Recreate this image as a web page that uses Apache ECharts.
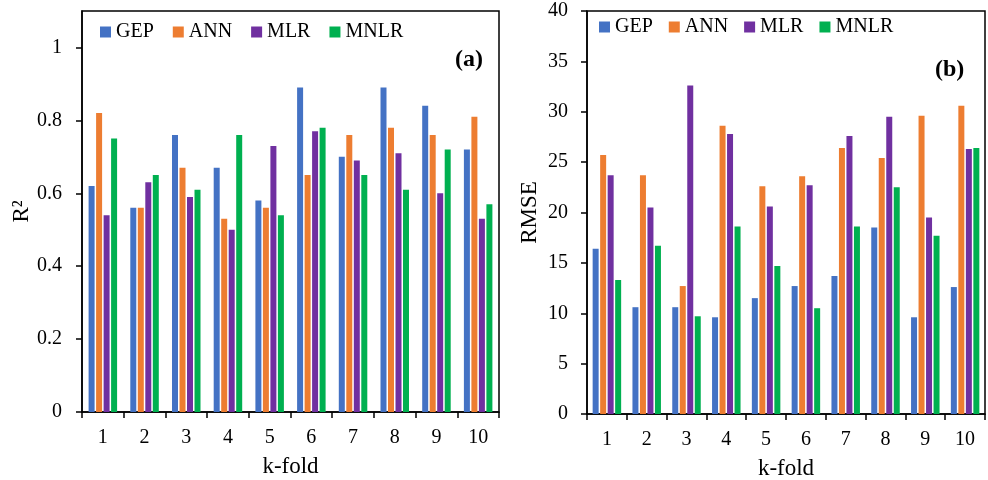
<!DOCTYPE html>
<html>
<head>
<meta charset="utf-8">
<script src="https://cdn.jsdelivr.net/npm/echarts@6/dist/echarts.min.js"></script>
<style>html,body{margin:0;padding:0;background:#fff}#c{width:988px;height:480px}</style>
</head>
<body>
<div id="c"></div>
<script>
var folds = ['1','2','3','4','5','6','7','8','9','10'];
var seriesNames = ['GEP','ANN','MLR','MNLR'];
var colors = ['#4472C4','#ED7D31','#7030A0','#00B050'];

var r2GEP  = [0.62,0.56,0.76,0.67,0.58,0.89,0.70,0.89,0.84,0.72];
var r2ANN  = [0.82,0.56,0.67,0.53,0.56,0.65,0.76,0.78,0.76,0.81];
var r2MLR  = [0.54,0.63,0.59,0.50,0.73,0.77,0.69,0.71,0.60,0.53];
var r2MNLR = [0.75,0.65,0.61,0.76,0.54,0.78,0.65,0.61,0.72,0.57];

var rmseGEP  = [16.4,10.6,10.6,9.6,11.5,12.7,13.7,18.5,9.6,12.6];
var rmseANN  = [25.7,23.7,12.7,28.6,22.6,23.6,26.4,25.4,29.6,30.6];
var rmseMLR  = [23.7,20.5,32.6,27.8,20.6,22.7,27.6,29.5,19.5,26.3];
var rmseMNLR = [13.3,16.7,9.7,18.6,14.7,10.5,18.6,22.5,17.7,26.4];

var r2Ticks = [0,0.2,0.4,0.6,0.8,1];
var rmseTicks = [0,5,10,15,20,25,30,35,40];

var FONT = 'Liberation Serif';
var chart = echarts.init(document.getElementById('c'), null, {renderer:'canvas'});

function xAxis(gi){
  return {
    type:'category', gridIndex:gi, data:folds, boundaryGap:true,
    name:'k-fold', nameLocation:'middle', nameGap:43,
    nameTextStyle:{fontFamily:FONT, fontSize:23, color:'#000'},
    axisLine:{lineStyle:{color:'#000', width:1.5}},
    axisTick:{show:true, length:6, lineStyle:{color:'#000', width:1.5}},
    axisLabel:{fontFamily:FONT, fontSize:20, color:'#000', margin:16}
  };
}
function yAxis(gi, name, max, interval, ticks, gap, margin){
  return {
    type:'value', gridIndex:gi, min:0, max:max, interval:interval,
    name:name, nameLocation:'middle', nameGap:gap,
    nameTextStyle:{fontFamily:FONT, fontSize:23, color:'#000'},
    splitLine:{show:false},
    axisLine:{show:true, lineStyle:{color:'#000', width:1.5}},
    axisTick:{show:true, length:6, lineStyle:{color:'#000', width:1.5}, customValues:ticks},
    axisLabel:{fontFamily:FONT, fontSize:20, color:'#000', margin:margin, customValues:ticks}
  };
}
var r2Data = [r2GEP, r2ANN, r2MLR, r2MNLR];
var rmseData = [rmseGEP, rmseANN, rmseMLR, rmseMNLR];
var series = [];
for (var i=0;i<4;i++){
  series.push({type:'bar', name:seriesNames[i], xAxisIndex:0, yAxisIndex:0, data:r2Data[i],
    barWidth:6, barGap:'25%', itemStyle:{color:colors[i]}});
}
for (var j=0;j<4;j++){
  series.push({type:'bar', name:seriesNames[j], xAxisIndex:1, yAxisIndex:1, data:rmseData[j],
    barWidth:6, barGap:'25%', itemStyle:{color:colors[j]}});
}
function legend(left, top, gap){
  return {
    data:seriesNames, left:left, top:top, padding:0, itemWidth:11, itemHeight:11, itemGap:gap,
    icon:'rect', textStyle:{fontFamily:FONT, fontSize:20, color:'#000'}
  };
}
chart.setOption({
  animation:false,
  color:colors,
  grid:[
    {left:82, right:489, top:11, bottom:68, show:true, borderColor:'#000', borderWidth:1.5,
     containLabel:false, outerBoundsMode:'none'},
    {left:587, right:3, top:11, bottom:66, show:true, borderColor:'#000', borderWidth:1.5,
     containLabel:false, outerBoundsMode:'none'}
  ],
  legend:[legend(100, 22, 19), legend(599, 17, 16)],
  xAxis:[xAxis(0), xAxis(1)],
  yAxis:[
    yAxis(0, 'R²', 1.1, 0.2, r2Ticks, 48, 20),
    yAxis(1, 'RMSE', 40, 5, rmseTicks, 46, 19)
  ],
  graphic:[
    {type:'text', left:455, top:48, style:{text:'(a)', font:'bold 24px "Liberation Serif"', fill:'#000'}},
    {type:'text', left:935, top:58, style:{text:'(b)', font:'bold 24px "Liberation Serif"', fill:'#000'}}
  ],
  series:series
});
</script>
</body>
</html>
